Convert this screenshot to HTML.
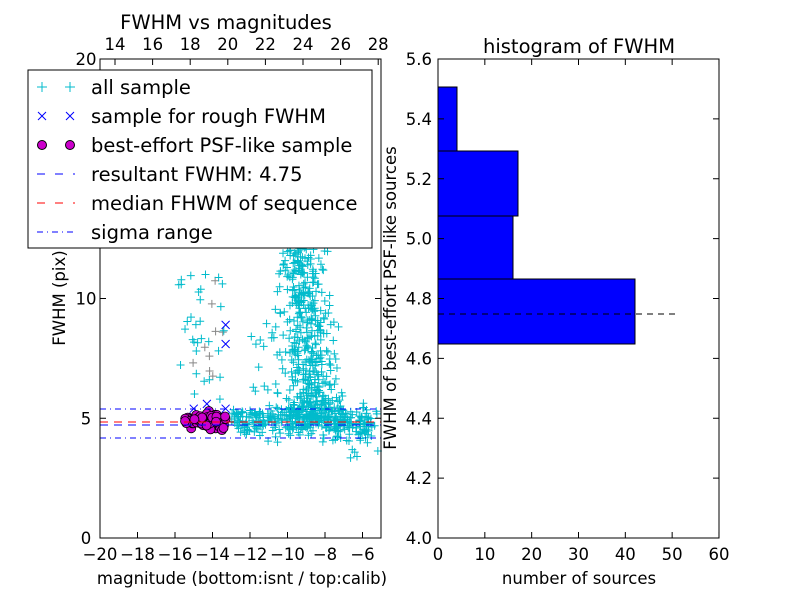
<!DOCTYPE html>
<html><head><meta charset="utf-8"><style>
body{margin:0;background:#fff;font-family:"DejaVu Sans","Liberation Sans",sans-serif;}
svg text{font-family:"DejaVu Sans","Liberation Sans",sans-serif;}
</style></head><body>
<svg id="s" width="800" height="600" xmlns="http://www.w3.org/2000/svg">
<rect width="800" height="600" fill="#fff"/>
<g id="pts"></g>
<line x1="100" x2="381" y1="409" y2="409" stroke="#00f" stroke-dasharray="6,4,1,4"/>
<line x1="100" x2="381" y1="438" y2="438" stroke="#00f" stroke-dasharray="6,4,1,4"/>
<line x1="100" x2="381" y1="422" y2="422" stroke="#f00" stroke-dasharray="8,6"/>
<line x1="100" x2="381" y1="425" y2="425" stroke="#00f" stroke-dasharray="8,6"/>
<rect x="100" y="59" width="281" height="479" fill="none" stroke="#000"/>
<g id="lt" stroke="#000"></g>
<g font-size="16.5" text-anchor="middle" id="ll"></g>
<text x="226" y="29" font-size="19.5" text-anchor="middle">FWHM vs magnitudes</text>
<text x="242" y="584" font-size="16.5" text-anchor="middle">magnitude (bottom:isnt / top:calib)</text>
<text x="65" y="298" font-size="16.5" text-anchor="middle" transform="rotate(-90 65 298)">FWHM (pix)</text>
<rect x="28" y="70" width="344" height="178" fill="#fff" stroke="#000"/>
<g font-size="19.5">
<text x="91" y="94">all sample</text>
<text x="91" y="123">sample for rough FWHM</text>
<text x="91" y="152">best-effort PSF-like sample</text>
<text x="91" y="181">resultant FWHM: 4.75</text>
<text x="91" y="210">median FHWM of sequence</text>
<text x="91" y="239">sigma range</text>
</g>
<g stroke="#0bc" stroke-width="1">
<path d="M37 87h10M42 82v10M65 87h10M70 82v10"/></g>
<g stroke="#00f"><path d="M38 112l8 8M46 112l-8 8M66 112l8 8M74 112l-8 8"/></g>
<circle cx="42" cy="145" r="4.5" fill="#c0c" stroke="#000"/><circle cx="70" cy="145" r="4.5" fill="#c0c" stroke="#000"/>
<line x1="37" x2="75" y1="174" y2="174" stroke="#00f" stroke-dasharray="8,10"/>
<line x1="37" x2="75" y1="203" y2="203" stroke="#f00" stroke-dasharray="8,10"/>
<line x1="37" x2="75" y1="232" y2="232" stroke="#00f" stroke-dasharray="6,4,1,4"/>
<g fill="#00f" stroke="#000">
<rect x="438" y="279" width="197" height="65"/>
<rect x="438" y="216" width="75" height="63"/>
<rect x="438" y="151" width="80" height="65"/>
<rect x="438" y="87" width="19" height="64"/>
</g>
<line x1="438" x2="676" y1="314" y2="314" stroke="#000" stroke-dasharray="6,5"/>
<rect x="438" y="59" width="281" height="479" fill="none" stroke="#000"/>
<g id="rt" stroke="#000"></g>
<g font-size="16.5" id="rl"></g>
<text x="579" y="53" font-size="19.5" text-anchor="middle">histogram of FWHM</text>
<text x="579" y="584" font-size="16.5" text-anchor="middle">number of sources</text>
<text x="396" y="298" font-size="16.5" text-anchor="middle" transform="rotate(-90 396 298)">FWHM of best-effort PSF-like sources</text>
</svg>
<script>
var NS="http://www.w3.org/2000/svg";
function el(p,t,a,txt){var e=document.createElementNS(NS,t);for(var k in a)e.setAttribute(k,a[k]);if(txt!=null)e.textContent=txt;document.getElementById(p).appendChild(e);}
for(var v=-20;v<=-6;v+=2){var x=100+(v+20)*18.75;el("lt","line",{x1:x,x2:x,y1:538,y2:532});el("ll","text",{x:x,y:560},(v<0?"\u2212":"")+Math.abs(v));}
for(var v=14;v<=28;v+=2){var x=115+(v-14)*18.8;el("lt","line",{x1:x,x2:x,y1:59,y2:65});el("ll","text",{x:x,y:50},v);}
[0,5,10,20].forEach(function(v){var y=538-v*23.95;el("lt","line",{x1:100,x2:106,y1:y,y2:y});el("lt","line",{x1:381,x2:375,y1:y,y2:y});el("ll","text",{x:86,y:y+6},v);});
for(var v=0;v<=60;v+=10){var x=438+v*4.683;el("rt","line",{x1:x,x2:x,y1:538,y2:532});el("rt","line",{x1:x,x2:x,y1:59,y2:65});el("rl","text",{x:x,y:560,"text-anchor":"middle"},v);}
for(var i=0;i<=8;i++){var v=4+i*0.2,y=538-i*59.875;el("rt","line",{x1:438,x2:444,y1:y,y2:y});el("rt","line",{x1:719,x2:713,y1:y,y2:y});el("rl","text",{x:432,y:y+6,"text-anchor":"end"},v.toFixed(1));}
var seed=7;function r(){seed=(seed*16807)%2147483647;return seed/2147483647;}
function g(){return (r()+r()+r()-1.5)/0.5;}
function X(m){return 100+(m+20)*18.75;}function Y(f){return 538-f*23.95;}
var P=[];
for(var i=0;i<500;i++){var f=5+Math.pow(r(),1.6)*8.5;var m=-8.6-(f-5)*0.12+g()*0.6;P.push([m,f,"#0bc"]);}
for(var i=0;i<300;i++){var m=-13+r()*7.5,f=4.9+g()*0.3;P.push([m,f,"#0bc"]);}
for(var i=0;i<60;i++){var m=-12+r()*5,f=4+r()*5.5;P.push([m,f,"#0bc"]);}
for(var i=0;i<40;i++){var m=-15.8+r()*2.5,f=5.5+r()*6;P.push([m,f,r()<0.3?"#888":"#0bc"]);}
for(var i=0;i<30;i++){var m=-7.5+r()*2.5,f=3.3+r()*2;P.push([m,f,"#0bc"]);}
for(var i=0;i<15;i++){var m=-10.5+r()*2,f=13+r()*7;P.push([m,f,"#0bc"]);}
P.forEach(function(p){var x=X(p[0]),y=Y(p[1]);if(x<101||x>380||y<60||y>537)return;el("pts","path",{d:"M"+(x-4)+" "+y+"h8M"+x+" "+(y-4)+"v8",stroke:p[2],"stroke-width":1});});
[[-13.3,8.1],[-13.3,8.9],[-14.3,5.6],[-13.3,5.4],[-15,5.4]].forEach(function(p){var x=X(p[0]),y=Y(p[1]);el("pts","path",{d:"M"+(x-4)+" "+(y-4)+"l8 8M"+(x+4)+" "+(y-4)+"l-8 8",stroke:"#00f"});});
for(var i=0;i<70;i++){var m=-15.5+r()*2.2,f=4.9+g()*0.18;el("pts","circle",{cx:X(m),cy:Y(f),r:4.5,fill:"#c0c",stroke:"#000","stroke-width":0.8});}
</script>
</body></html>
